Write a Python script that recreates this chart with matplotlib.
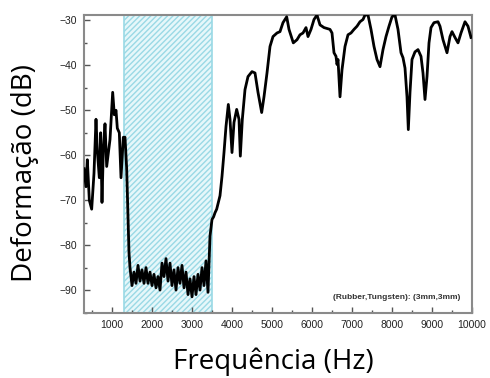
import matplotlib
matplotlib.use("Agg")
import matplotlib.pyplot as plt
import numpy as np

# frequency (Hz) and deformation (dB)
freq_low = [300, 350, 383, 433, 492, 550, 600, 633, 683, 717, 750, 783, 825,
            867, 950, 1017, 1058, 1100, 1133, 1183, 1225, 1283, 1325, 1367,
            1400, 1425]
db_low = [-63, -67, -61, -70, -72, -64, -52, -59, -65, -55, -70.5, -59, -53,
          -62.5, -56.5, -46, -51, -50, -54, -55, -65, -56, -56, -63,
          -74, -81.7]

# noisy stop band inside the shaded region
freq_band = [1450, 1500, 1550, 1600, 1650, 1700, 1750, 1800, 1850, 1900,
             1950, 2000, 2050, 2100, 2150, 2200, 2250, 2300, 2350, 2400,
             2450, 2500, 2550, 2600, 2650, 2700, 2750, 2800, 2850, 2900,
             2950, 3000, 3050, 3100, 3150, 3200, 3250, 3300, 3350, 3400,
             3425]
db_band = [-85, -89, -86, -88.5, -84.5, -88, -85.5, -88.5, -85, -88.5,
           -86, -89, -86.5, -89.5, -87, -90, -84, -87, -83, -88,
           -84, -89, -85.5, -90, -85, -88.5, -84.5, -89.5, -86, -91,
           -87.5, -91.5, -87, -91, -86.5, -90, -85, -89, -83.5, -90.5,
           -84]

freq_high = [3450, 3500, 3540, 3575, 3617, 3700, 3750, 3800, 3850, 3908,
             3950, 4000, 4050, 4117, 4175, 4208, 4258, 4325, 4400, 4500,
             4575, 4650, 4742, 4800, 4875, 4950, 5025, 5125, 5200, 5275,
             5367, 5425, 5533, 5625, 5700, 5775, 5850, 5900, 5975, 6050,
             6125, 6200, 6300, 6450, 6500, 6550, 6600, 6625, 6650, 6700,
             6750, 6825, 6900, 6975, 7050, 7125, 7200, 7275, 7325, 7400,
             7475, 7550, 7625, 7700, 7775, 7850, 7925, 8000, 8075, 8150,
             8225, 8275, 8325, 8375, 8408, 8450, 8500, 8575, 8650, 8725,
             8775, 8825, 8875, 8925, 8975, 9050, 9150, 9200, 9275, 9375,
             9450, 9500, 9575, 9650, 9725, 9825, 9900, 9975]
db_high = [-78, -74.3, -73.7, -72.8, -72, -69, -64.7, -59.4, -53.6, -48.7,
           -52, -59.4, -52.7, -49.8, -52, -60.2, -52, -45.4, -42.5, -41.4,
           -41.7, -46, -50.5, -47, -41.7, -35.8, -33.6, -32.8, -32.5, -30.5,
           -29.2, -32, -35, -34.3, -33.2, -32.8, -31.6, -33.6, -32, -29.8,
           -28.8, -31, -31.6, -32, -32.8, -37.2, -38, -39.8, -38.7, -47,
           -41, -35.8, -33.2, -32.8, -32, -31.3, -30.3, -29.8, -28.8, -28.8,
           -32, -35.8, -38.7, -40.3, -36.5, -33.6, -31.3, -29.2, -28.8, -32,
           -37.2, -38.3, -40.6, -47, -54.3, -46, -38.7, -37, -36.5, -38,
           -41.7, -47.6, -42.5, -35, -31.6, -30.5, -30.3, -31.3, -34.3, -37.2,
           -33.6, -32.5, -33.8, -35, -32.8, -30.3, -31.3, -33.8]

band_start, band_end = 1300, 3500
xticks = [1000, 2000, 3000, 4000, 5000, 6000, 7000, 8000, 9000, 10000]
yticks = [-90, -80, -70, -60, -50, -40, -30]

freq = freq_low + freq_band + freq_high
db = db_low + db_band + db_high

fig = plt.figure(figsize=(4.9, 3.78), dpi=100)
ax = fig.add_axes([84/490, 1-313/378, 388/490, 298/378])

ax.axvspan(band_start, band_end, facecolor='#e6f7fa', edgecolor='#9ad9e5',
           hatch='//////', linewidth=1.2, zorder=1)
ax.plot(freq, db, color='black', lw=2, zorder=3)

ax.set_xlim(300, 10000)
ax.set_ylim(-95.1, -28.8)
ax.set_xticks(xticks)
ax.set_yticks(yticks)
ax.set_xticks(np.arange(500, 10000, 1000), minor=True)
ax.set_yticks(np.arange(-95, -29, 10), minor=True)
ax.tick_params(which='both', direction='in', color='#555555', width=1)
ax.tick_params(which='major', length=4, labelsize=7.5, pad=5)
ax.tick_params(which='minor', length=2)
for lab in ax.get_xticklabels() + ax.get_yticklabels():
    lab.set_family(['Liberation Sans Narrow', 'Liberation Sans'])
    lab.set_color('#222222')
for sp in ax.spines.values():
    sp.set_color('#8a8a8a')
    sp.set_linewidth(1.5)

ax.text(0.97, 0.04, '(Rubber,Tungsten): (3mm,3mm)', transform=ax.transAxes,
        ha='right', va='bottom', fontsize=6, fontweight='bold', color='#333333',
        family=['Liberation Sans Narrow', 'Liberation Sans'])

fig.text(25/490, 1-173/378, 'Deformação (dB)', rotation=90, ha='center',
         va='center', fontsize=20, family=['Open Sans', 'DejaVu Sans'])
fig.text(273/490, 1-369/378, 'Frequência (Hz)', ha='center', va='baseline',
         fontsize=20, family=['Open Sans', 'DejaVu Sans'])

fig.savefig('out.png', dpi=100)
